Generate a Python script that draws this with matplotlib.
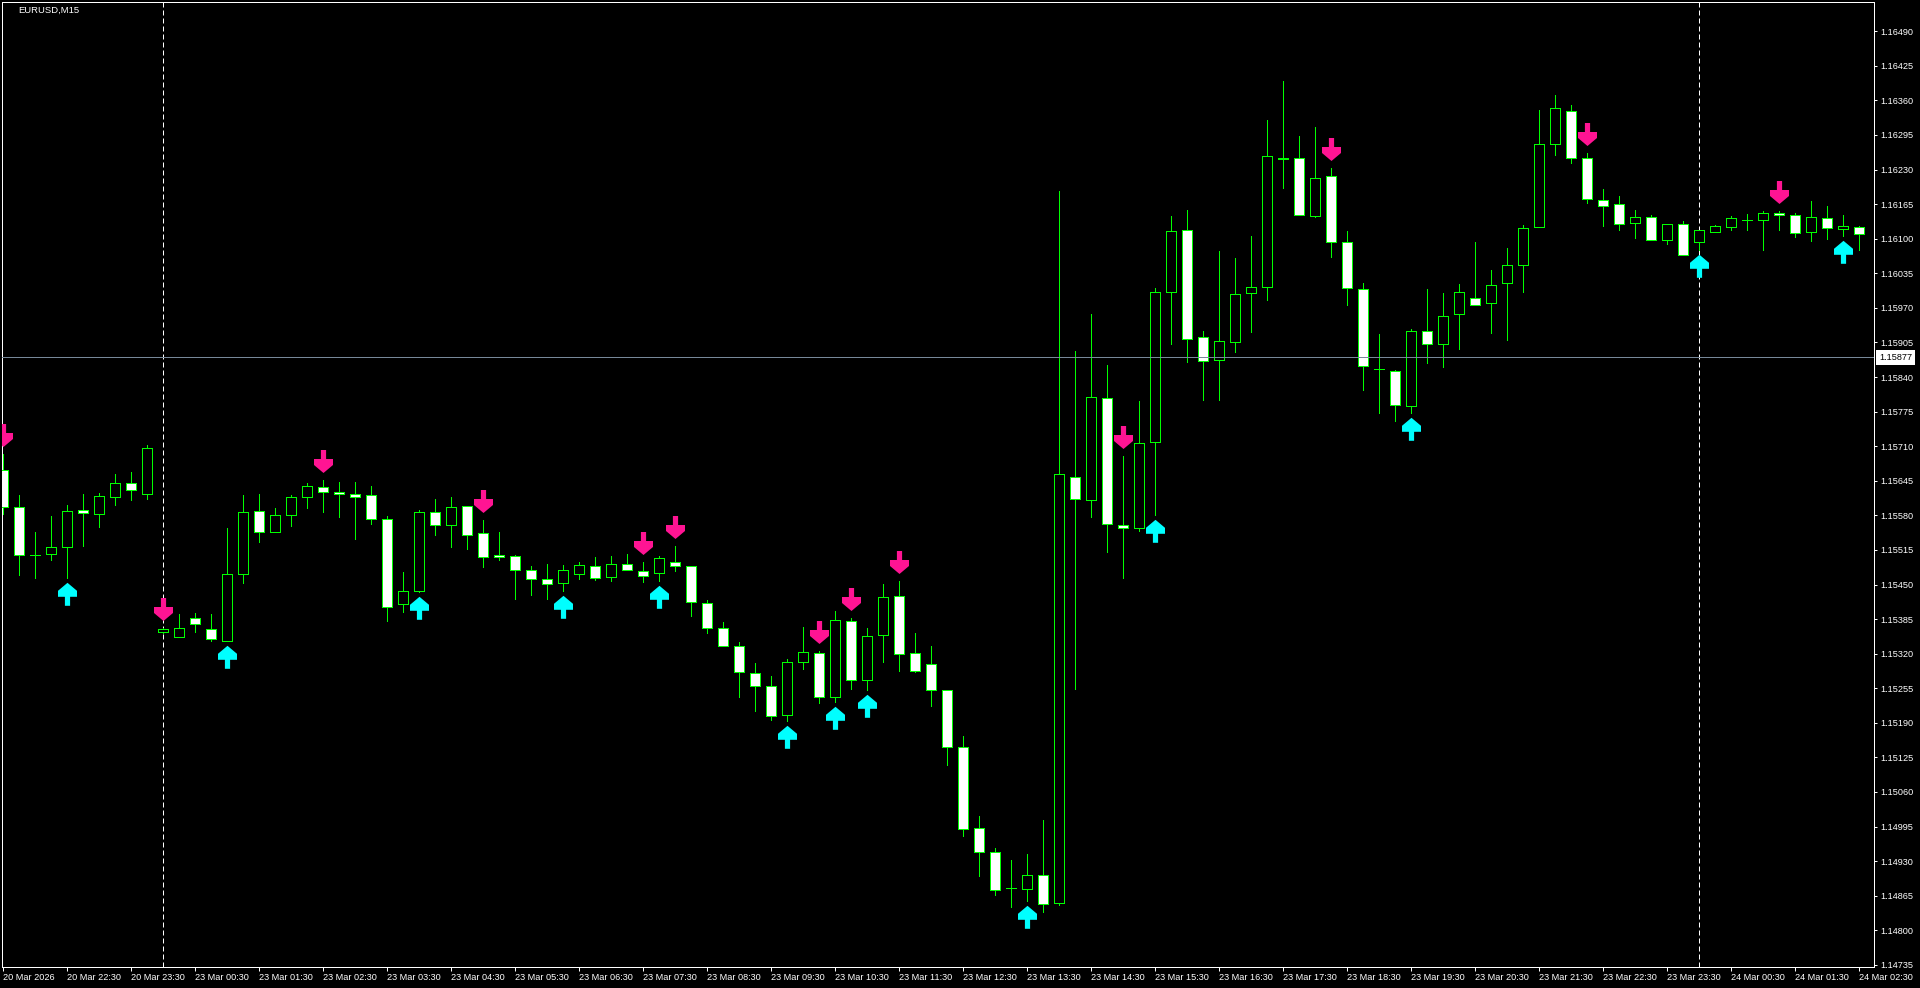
import matplotlib
matplotlib.use('Agg')
import matplotlib.pyplot as plt
import matplotlib.transforms as mtransforms
from matplotlib.path import Path
import numpy as np

plt.rcParams['font.family'] = ['Liberation Sans', 'DejaVu Sans']

DPI = 100
symbol = "EURUSD,M15"

# EURUSD M15, 20 Mar 21:30 .. 24 Mar 02:30
opens = [1.15665, 1.15595, 1.15506, 1.15507, 1.15521, 1.15591, 1.15582, 1.15615, 1.15640, 1.15620,
         1.15360, 1.15352, 1.15387, 1.15366, 1.15343, 1.15469, 1.15588, 1.15548, 1.15580, 1.15614,
         1.15633, 1.15623, 1.15620, 1.15618, 1.15573, 1.15413, 1.15437, 1.15586, 1.15562, 1.15597,
         1.15546, 1.15505, 1.15503, 1.15477, 1.15460, 1.15452, 1.15470, 1.15484, 1.15464, 1.15488,
         1.15476, 1.15471, 1.15492, 1.15484, 1.15415, 1.15368, 1.15334, 1.15283, 1.15259, 1.15204,
         1.15304, 1.15321, 1.15238, 1.15381, 1.15270, 1.15355, 1.15428, 1.15321, 1.15300, 1.15251,
         1.15144, 1.14992, 1.14947, 1.14879, 1.14877, 1.14904, 1.14851, 1.15653, 1.15608, 1.15800,
         1.15561, 1.15556, 1.15717, 1.15999, 1.16116, 1.15916, 1.15872, 1.15905, 1.15998, 1.16009,
         1.16252, 1.16251, 1.16142, 1.16217, 1.16093, 1.16005, 1.15856, 1.15851, 1.15785, 1.15926,
         1.15903, 1.15958, 1.15989, 1.15979, 1.16016, 1.16050, 1.16122, 1.16278, 1.16341, 1.16251,
         1.16172, 1.16165, 1.16129, 1.16140, 1.16097, 1.16127, 1.16093, 1.16112, 1.16122, 1.16136,
         1.16135, 1.16148, 1.16144, 1.16112, 1.16139, 1.16118, 1.16122]
highs = [1.15695, 1.15618, 1.15549, 1.15579, 1.15599, 1.15620, 1.15622, 1.15658, 1.15662, 1.15712,
         1.15368, 1.15395, 1.15396, 1.15395, 1.15556, 1.15618, 1.15620, 1.15594, 1.15618, 1.15641,
         1.15646, 1.15643, 1.15643, 1.15635, 1.15579, 1.15474, 1.15590, 1.15611, 1.15615, 1.15597,
         1.15571, 1.15548, 1.15505, 1.15484, 1.15489, 1.15487, 1.15492, 1.15501, 1.15504, 1.15507,
         1.15492, 1.15504, 1.15522, 1.15484, 1.15421, 1.15380, 1.15342, 1.15302, 1.15278, 1.15310,
         1.15370, 1.15325, 1.15400, 1.15387, 1.15368, 1.15451, 1.15456, 1.15358, 1.15334, 1.15251,
         1.15165, 1.15015, 1.14955, 1.14932, 1.14944, 1.15007, 1.16190, 1.15889, 1.15959, 1.15863,
         1.15692, 1.15795, 1.16007, 1.16143, 1.16154, 1.15927, 1.16077, 1.16064, 1.16105, 1.16323,
         1.16397, 1.16293, 1.16310, 1.16233, 1.16115, 1.16017, 1.15921, 1.15853, 1.15930, 1.16006,
         1.15998, 1.16015, 1.16094, 1.16041, 1.16083, 1.16126, 1.16342, 1.16370, 1.16352, 1.16261,
         1.16194, 1.16180, 1.16154, 1.16145, 1.16127, 1.16133, 1.16116, 1.16125, 1.16142, 1.16146,
         1.16152, 1.16152, 1.16148, 1.16170, 1.16161, 1.16144, 1.16124]
lows = [1.15583, 1.15468, 1.15463, 1.15496, 1.15463, 1.15523, 1.15558, 1.15600, 1.15608, 1.15611,
        1.15358, 1.15352, 1.15361, 1.15344, 1.15343, 1.15453, 1.15529, 1.15548, 1.15560, 1.15593,
        1.15586, 1.15577, 1.15536, 1.15564, 1.15382, 1.15399, 1.15435, 1.15543, 1.15521, 1.15517,
        1.15482, 1.15497, 1.15423, 1.15431, 1.15423, 1.15438, 1.15461, 1.15459, 1.15457, 1.15477,
        1.15454, 1.15457, 1.15475, 1.15391, 1.15359, 1.15334, 1.15239, 1.15213, 1.15195, 1.15194,
        1.15292, 1.15227, 1.15230, 1.15254, 1.15251, 1.15305, 1.15287, 1.15285, 1.15222, 1.15111,
        1.14978, 1.14903, 1.14867, 1.14844, 1.14856, 1.14835, 1.14848, 1.15254, 1.15577, 1.15512,
        1.15462, 1.15550, 1.15581, 1.15903, 1.15869, 1.15797, 1.15797, 1.15888, 1.15925, 1.15984,
        1.16195, 1.16144, 1.16140, 1.16066, 1.15976, 1.15816, 1.15773, 1.15758, 1.15772, 1.15866,
        1.15858, 1.15893, 1.15975, 1.15922, 1.15910, 1.15999, 1.16122, 1.16258, 1.16243, 1.16168,
        1.16123, 1.16116, 1.16102, 1.16097, 1.16091, 1.16069, 1.16078, 1.16112, 1.16116, 1.16117,
        1.16079, 1.16116, 1.16104, 1.16095, 1.16100, 1.16105, 1.16078]
closes = [1.15596, 1.15505, 1.15506, 1.15520, 1.15588, 1.15584, 1.15616, 1.15640, 1.15627, 1.15706,
          1.15366, 1.15368, 1.15375, 1.15348, 1.15470, 1.15586, 1.15548, 1.15580, 1.15614, 1.15636,
          1.15623, 1.15620, 1.15614, 1.15573, 1.15407, 1.15437, 1.15586, 1.15562, 1.15595, 1.15543,
          1.15501, 1.15501, 1.15477, 1.15460, 1.15451, 1.15477, 1.15486, 1.15463, 1.15488, 1.15477,
          1.15466, 1.15499, 1.15484, 1.15417, 1.15368, 1.15334, 1.15285, 1.15259, 1.15202, 1.15304,
          1.15323, 1.15238, 1.15383, 1.15270, 1.15353, 1.15426, 1.15319, 1.15288, 1.15251, 1.15144,
          1.14990, 1.14947, 1.14876, 1.14879, 1.14904, 1.14849, 1.15658, 1.15610, 1.15802, 1.15564,
          1.15556, 1.15716, 1.15999, 1.16114, 1.15911, 1.15870, 1.15907, 1.15996, 1.16009, 1.16255,
          1.16249, 1.16144, 1.16215, 1.16093, 1.16007, 1.15861, 1.15856, 1.15787, 1.15926, 1.15903,
          1.15954, 1.15999, 1.15975, 1.16013, 1.16050, 1.16120, 1.16279, 1.16345, 1.16251, 1.16174,
          1.16162, 1.16127, 1.16140, 1.16097, 1.16127, 1.16069, 1.16116, 1.16124, 1.16139, 1.16136,
          1.16148, 1.16144, 1.16110, 1.16140, 1.16120, 1.16124, 1.16108]

# indicator signals (bar index)
sell_signals = [0, 10, 20, 30, 40, 42, 51, 53, 56, 70, 83, 99, 111]
buy_signals = [4, 14, 26, 35, 41, 49, 52, 54, 64, 72, 88, 106, 115]

hline_price = 1.15877
day_separators = [10, 106]

time_tick_pos = list(range(0, 117, 4))
time_labels = ["20 Mar 2026", "20 Mar 22:30", "20 Mar 23:30", "23 Mar 00:30", "23 Mar 01:30",
               "23 Mar 02:30", "23 Mar 03:30", "23 Mar 04:30", "23 Mar 05:30", "23 Mar 06:30",
               "23 Mar 07:30", "23 Mar 08:30", "23 Mar 09:30", "23 Mar 10:30", "23 Mar 11:30",
               "23 Mar 12:30", "23 Mar 13:30", "23 Mar 14:30", "23 Mar 15:30", "23 Mar 16:30",
               "23 Mar 17:30", "23 Mar 18:30", "23 Mar 19:30", "23 Mar 20:30", "23 Mar 21:30",
               "23 Mar 22:30", "23 Mar 23:30", "24 Mar 00:30", "24 Mar 01:30", "24 Mar 02:30"]
price_ticks = np.round(1.14735 + 0.00065 * np.arange(28), 5)

GREEN = '#00FF00'
PINK = '#FF1493'
AQUA = '#00FFFF'


def arrow_marker(gap, up):
    # thick arrow in pixels (tip -> tail), tip sits `gap` px away from the anchor point
    shape = [(0, 0), (9.5, 8), (9.5, 14), (2.6, 14), (2.6, 23), (-2.6, 23),
             (-2.6, 14), (-9.5, 14), (-9.5, 8), (0, 0)]
    s = -1 if up else 1
    verts = [(px, s * (gap + py)) for px, py in shape]
    size = 2 * (gap + 23) * 72 / DPI
    return Path(verts), size


fig = plt.figure(figsize=(19.2, 9.88), dpi=DPI, facecolor='black')
ax = fig.add_axes([2 / 1920, 21 / 988, 1872 / 1920, 965 / 988])
ax.set_facecolor('black')

x = np.arange(len(opens))
o, h, l, c = (np.array(v) for v in (opens, highs, lows, closes))

# separators & horizontal line
for xs in day_separators:
    ax.axvline(xs, color='white', lw=0.72, ls=(0, (5, 3)), zorder=1)
ax.axhline(hline_price, color='#778899', lw=0.72, zorder=4)

# candles
ax.vlines(x, l, h, color=GREEN, lw=0.72, zorder=2, antialiased=False)
face = np.where(c > o, 'black', 'white')
ax.bar(x, np.abs(c - o), width=0.62, bottom=np.minimum(o, c), color=face,
       edgecolor=GREEN, linewidth=0.72, zorder=3, antialiased=False)

# signal arrows
down_path, down_size = arrow_marker(7.5, up=False)
up_path, up_size = arrow_marker(4.3, up=True)
ax.plot(x[sell_signals], h[sell_signals], ls='none', marker=down_path, ms=down_size,
        mfc=PINK, mec=PINK, mew=0, zorder=5)
ax.plot(x[buy_signals], l[buy_signals], ls='none', marker=up_path, ms=up_size,
        mfc=AQUA, mec=AQUA, mew=0, zorder=5)

ax.set_xlim(-0.0625, 116.9375)
ax.set_ylim(1.14731, 1.16545)

for sp in ax.spines.values():
    sp.set_color('white')
    sp.set_linewidth(0.72)

ax.yaxis.tick_right()
ax.set_yticks(price_ticks)
ax.set_yticklabels([f"{p:.5f}" for p in price_ticks])
ax.tick_params(axis='y', direction='out', length=2.5, width=0.72, colors='white',
               labelsize=6.6, pad=2)
ax.set_xticks(time_tick_pos)
ax.set_xticklabels(time_labels)
for lab in ax.get_xticklabels():
    lab.set_ha('left')
ax.tick_params(axis='x', direction='out', length=3, width=0.72, colors='white',
               labelsize=6.6, pad=1.5)

# price label of the horizontal line
trans = mtransforms.blended_transform_factory(ax.transAxes, ax.transData)
ax.text(1.0027, hline_price, f"{hline_price:.5f}", transform=trans, ha='left', va='center',
        fontsize=6.6, color='black', zorder=6, clip_on=False,
        bbox=dict(boxstyle='square,pad=0.3', fc='white', ec='none'))

fig.text(18 / 1920, 1 - 10.5 / 988, symbol, color='white', fontsize=6.8, ha='left', va='center')

fig.savefig('out.png', dpi=DPI, facecolor='black')
